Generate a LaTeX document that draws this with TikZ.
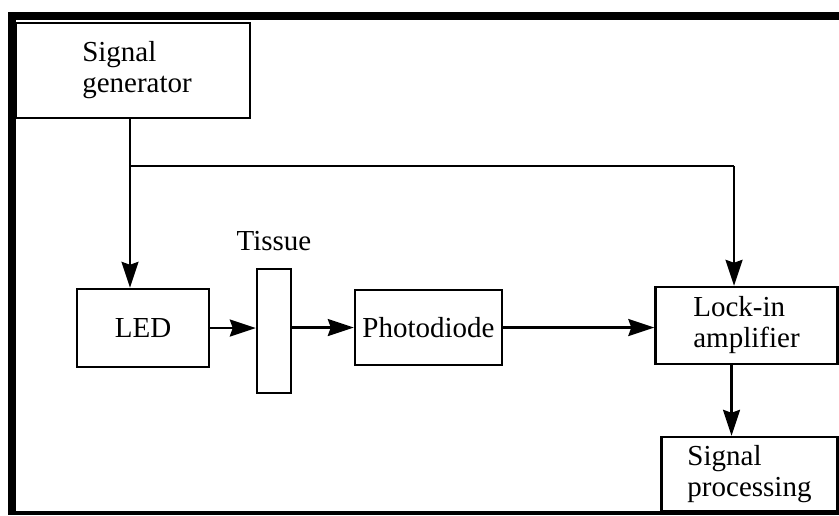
\documentclass[tikz,border=0pt]{standalone}
\usepackage{fontspec}
\setmainfont{Liberation Serif}
\usetikzlibrary{arrows.meta,positioning}
\tikzstyle{block} = [draw=black, line width=2.4pt, inner sep=0pt, align=left,
minimum width=#1]
\tikzstyle{arrow} = [line width=2.4pt, -{Stealth[length=26pt,width=17pt,inset=3pt]}]
\begin{document}
\begin{tikzpicture}[x=1pt,y=-1pt,font=\fontsize{29}{31}\selectfont]
\useasboundingbox (0,0) rectangle (839,515);
% frame
\fill (8,12) rectangle (839,20);
\fill (8,12) rectangle (16,515);
\fill (8,511) rectangle (839,515);
% blocks
\node[block=234pt, minimum height=95pt] (gen) at (133,70.5) {\hspace*{8pt}Signal\\\hspace*{8pt}generator};
\node[block=132pt, minimum height=78pt] (led) at (143,328) {LED};
\node[block=34pt, minimum height=124pt] (tissue) at (274,331) {};
\node[anchor=base] (tlabel) at ([yshift=17pt]tissue.north) {Tissue};
\node[block=147pt, minimum height=75pt] (pd) at (428.5,327.5) {Photodiode};
\node[block=182pt, minimum height=77pt] (lia) at (746.5,325.5) {Lock-in\\amplifier};
\node[block=176pt, minimum height=74pt] (sp) at (749.5,474) {Signal\\processing};
% connectors
\coordinate (split) at (130,166);
\coordinate (turn) at (734,166);
\draw[arrow] (gen.south -| split) -- (split |- led.north);
\draw[line width=2.4pt] (split) -- (turn);
\draw[arrow] (turn) -- (turn |- lia.north);
\draw[arrow] (led.east) -- (led.east -| tissue.west);
\draw[arrow] (tissue.east |- pd.west) -- (pd.west);
\draw[arrow] (pd.east) -- (pd.east -| lia.west);
\draw[arrow] ([xshift=-15pt]lia.south) -- ([xshift=-15pt]lia.south |- sp.north);
\end{tikzpicture}
\end{document}
